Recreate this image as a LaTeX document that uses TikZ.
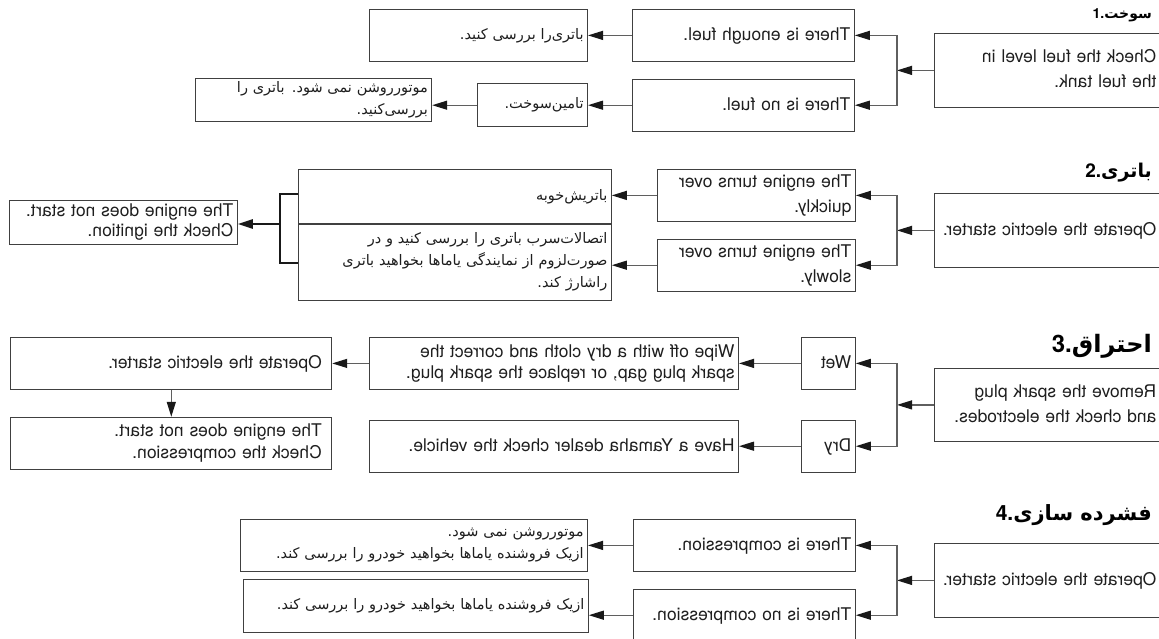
\documentclass[tikz,border=0pt]{standalone}
\usepackage{fontspec}
\usepackage{graphicx}
\newfontfamily\enfont{TeX Gyre Heros}
\newfontfamily\fafont[Script=Arabic]{DejaVu Sans}
\TeXXeTstate=1
\usetikzlibrary{arrows.meta,positioning,calc}
\definecolor{edgegray}{RGB}{64,64,64}
\definecolor{linkgray}{RGB}{95,95,95}
\definecolor{tipblack}{RGB}{25,25,25}
\definecolor{inkgray}{RGB}{30,30,30}
\newcommand{\mir}[1]{\reflectbox{\begin{tabular}{@{}l@{}}#1\end{tabular}}}
\newcommand{\faline}[1]{\beginR #1\endR}
\newcommand{\headno}[1]{\hbox{\enfont\bfseries #1.}}

\begin{document}
\begin{tikzpicture}[
    x=1pt, y=-1pt,
    >={Triangle[length=15pt,width=9pt,color=tipblack]},
    box/.style={rectangle, draw=edgegray, line width=0.8pt, inner xsep=4pt, inner ysep=0pt, minimum height=52pt, align=right, text=inkgray},
    tall/.style={box, minimum height=74pt},
    en/.style={font=\enfont\fontsize{17.5}{#1}\selectfont}, en/.default=25,
    fa/.style={font=\fafont\fontsize{14.5}{#1}\selectfont}, fa/.default=22,
    head/.style={anchor=east, inner sep=0pt, font=\fafont\bfseries\fontsize{#1}{#1}\selectfont},
    link/.style={->, draw=linkgray, line width=1.2pt},
    brace/.style={draw=tipblack, line width=2.4pt}
]
    \useasboundingbox (0,0) rectangle (1159,639);

    % 1. fuel
    \node[head=14] (h1) at (1152,15) {\headno{1}\hbox{\beginR سوخت\endR}};
    \node[tall, en, text width=218pt, anchor=north west] (fuel) at (934,33) {\mir{Check the fuel level in\\the fuel tank.}};
    \coordinate[left=37pt of fuel.west] (f1);
    \node[box, en, text width=214pt, anchor=north west] (enough) at (632,9) {\mir{There is enough fuel.}};
    \node[box, en, text width=214pt, below=17pt of enough] (nofuel) {\mir{There is no fuel.}};
    \node[box, fa, text width=210pt, left=44pt of enough] (chkbat) {\faline{باتری‌را بررسی کنید.}};
    \node[box, fa, text width=102pt, minimum height=43pt, left=44pt of nofuel] (addfuel) {\faline{تامین‌سوخت.}};
    \node[box, fa, text width=228pt, minimum height=43pt, left=45pt of addfuel, yshift=5pt] (nostart1) {\faline{موتورروشن نمی شود. باتری را}\\\faline{بررسی‌کنید.}};

    \draw[link] (fuel.west) -- (f1);
    \draw[link] (f1) |- (enough);
    \draw[link] (f1) |- (nofuel);
    \draw[link] (enough) -- (chkbat);
    \draw[link] (nofuel) -- (addfuel);
    \draw[link] (addfuel.west) -- (addfuel.west -| nostart1.east);

    % 2. battery
    \node[head=19] (h2) at (1152,173) {\headno{2}\hbox{\beginR باتری\endR}};
    \node[tall, en, text width=218pt, anchor=north west] (start2) at (934,193) {\mir{Operate the electric starter.}};
    \coordinate[left=37pt of start2.west] (f2);
    \node[box, en, text width=190pt, anchor=north west] (fast) at (657,169) {\mir{The engine turns over\\quickly.}};
    \node[box, en, text width=190pt, below=17pt of fast] (slow) {\mir{The engine turns over\\slowly.}};
    \node[box, fa, text width=305pt, minimum height=54pt, anchor=north west] (good) at (298,169) {\faline{باتریش‌خوبه}};
    \node[box, fa, text width=305pt, minimum height=76pt, below=0pt of good] (charge) {\faline{اتصالات‌سرب باتری را بررسی کنید و در}\\\faline{صورت‌لزوم از نمایندگی یاماها بخواهید باتری}\\\faline{راشارژ کند.}};
    \node[box, en=20, text width=220pt, minimum height=44pt, anchor=north west] (ign) at (9,200) {\mir{The engine does not start.\\Check the ignition.}};
    \coordinate (bt) at (298,194);
    \coordinate (bb) at (298,263);
    \coordinate (bm) at (280,224);

    \draw[link] (start2.west) -- (f2);
    \draw[link] (f2) |- (fast);
    \draw[link] (f2) |- (slow);
    \draw[link] (fast.west) -- (fast.west -| good.east);
    \draw[link] (slow.west) -- (slow.west -| charge.east);
    \draw[brace] (bt) -- ++(-18,0) |- (bb);
    \draw[->, brace] (bm) -- (bm -| ign.east);

    % 3. spark plug
    \node[head=24] (h3) at (1152,346) {\headno{3}\hbox{\beginR احتراق\endR}};
    \node[tall, en, text width=218pt, minimum height=73pt, anchor=north west] (plug) at (934,368) {\mir{Remove the spark plug\\and check the electrodes.}};
    \coordinate[left=37pt of plug.west] (f3);
    \node[box, en, text width=46pt, anchor=north west] (wet) at (801,337) {\mir{Wet}};
    \node[box, en, text width=46pt, below=30pt of wet] (dry) {\mir{Dry}};
    \node[box, en=21, text width=361pt, left=62pt of wet] (wipe) {\mir{Wipe off with a dry cloth and correct the\\spark plug gap, or replace the spark plug.}};
    \node[box, en, text width=361pt, left=62pt of dry] (dealer) {\mir{Have a Yamaha dealer check the vehicle.}};
    \node[box, en, inner xsep=10pt, text width=301pt, left=37pt of wipe] (op3) {\mir{Operate the electric starter.}};
    \node[box, en=22, inner xsep=10pt, text width=301pt, below=27pt of op3] (comp) {\mir{The engine does not start.\\Check the compression.}};

    \draw[link] (plug.west) -- (f3);
    \draw[link] (f3) |- (wet);
    \draw[link] (f3) |- (dry);
    \draw[link] (wet) -- (wipe);
    \draw[link] (dry) -- (dealer);
    \draw[link] (wipe) -- (op3);
    \draw[link] (op3) -- (comp);

    % 4. compression
    \node[head=21] (h4) at (1152,515) {\headno{4}\hbox{\beginR فشرده سازی\endR}};
    \node[tall, en, text width=218pt, anchor=north west] (start4) at (934,543) {\mir{Operate the electric starter.}};
    \coordinate[left=37pt of start4.west] (f4);
    \node[box, en, text width=214pt, anchor=north west] (comp4) at (633,519) {\mir{There is compression.}};
    \node[box, en, text width=214pt, below=17pt of comp4] (nocomp) {\mir{There is no compression.}};
    \node[box, fa, text width=339pt, left=45pt of comp4] (dealer1) {\faline{موتورروشن نمی شود.}\\\faline{ازیک فروشنده یاماها بخواهید خودرو را بررسی کند.}};
    \node[box, fa, text width=337pt, minimum height=53pt, anchor=north west] (dealer2) at (243,579) {\faline{ازیک فروشنده یاماها بخواهید خودرو را بررسی کند.}};

    \draw[link] (start4.west) -- (f4);
    \draw[link] (f4) |- (comp4);
    \draw[link] (f4) |- (nocomp);
    \draw[link] (comp4) -- (dealer1);
    \draw[link] (nocomp.west) -- (nocomp.west -| dealer2.east);
\end{tikzpicture}
\end{document}
